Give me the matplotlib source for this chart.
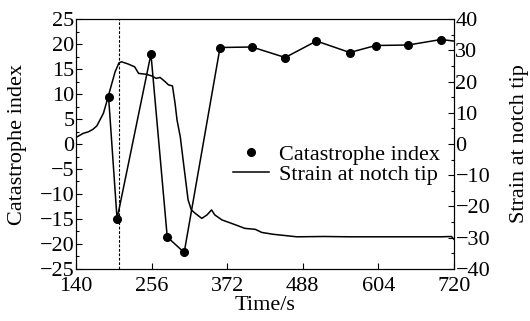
import matplotlib.pyplot as plt
from matplotlib.ticker import MultipleLocator
from matplotlib.lines import Line2D

plt.rcParams['font.family'] = ['Liberation Serif', 'DejaVu Serif']

# catastrophe index (left axis)
ci_time = [190, 203, 255, 280, 306, 361, 410, 461, 509, 560, 600, 650, 700, 745]
ci_value = [9.4, -15.0, 18.0, -18.6, -21.7, 19.3, 19.4, 17.3, 20.6, 18.3, 19.7, 19.8, 20.9, 20.2]

# strain at notch tip (right axis)
st_time = [140, 151, 159, 166, 172, 182, 188, 195, 200, 206, 210, 220, 230, 236,
           248, 256, 263, 269, 277, 282, 288, 292, 295, 300, 305, 312, 317, 323,
           333, 341, 348, 353, 364, 376, 389, 399, 415, 425, 443, 479, 520, 560,
           600, 650, 700, 716, 720]
st_value = [2.1, 3.4, 3.9, 4.7, 5.8, 9.8, 14.1, 19.4, 23.1, 26.0, 26.3, 25.6, 24.7, 22.6,
            22.3, 21.8, 21.0, 21.3, 19.9, 18.9, 18.6, 13.0, 7.7, 2.3, -6.2, -17.9, -21.1, -22.2,
            -23.8, -22.7, -21.1, -22.7, -24.3, -25.2, -26.2, -27.0, -27.3, -28.3, -28.9, -29.7, -29.6, -29.7,
            -29.7, -29.7, -29.7, -29.6, -30.5]

onset = 206.5
fs = 16

fig = plt.figure(figsize=(5.3, 3.21), dpi=100)
ax = fig.add_axes([0.1434, 0.162, 0.7132, 0.7788])
ax2 = ax.twinx()

ax.plot(ci_time, ci_value, color='black', lw=1.1, marker='o', ms=5.5)
ax2.plot(st_time, st_value, color='black', lw=1.1)
ax.axvline(onset, color='black', lw=0.8, ls=(0, (2.5, 1.5)))

ax.set_xlim(140, 720)
ax.set_ylim(-25, 25)
ax2.set_ylim(-40, 40)
ax.set_xticks([140, 256, 372, 488, 604, 720])
ax.yaxis.set_major_locator(MultipleLocator(5))
ax.yaxis.set_minor_locator(MultipleLocator(2.5))
ax2.yaxis.set_major_locator(MultipleLocator(10))
ax2.yaxis.set_minor_locator(MultipleLocator(5))

for a in (ax, ax2):
    a.tick_params(which='both', direction='in', labelsize=fs, width=0.8, pad=1)
    a.tick_params(which='major', length=4)
    a.tick_params(which='minor', length=2.5)
ax.tick_params(axis='x', pad=6)

fmt = lambda v, p: f'{int(v)}'.replace('-', '\u2212')
ax.yaxis.set_major_formatter(fmt)
ax2.yaxis.set_major_formatter(fmt)

ax.set_xlabel('Time/s', fontsize=fs, labelpad=0)
ax.set_ylabel('Catastrophe index', fontsize=fs, labelpad=9)
ax2.set_ylabel('Strain at notch tip', fontsize=fs, labelpad=14)

handles = [Line2D([], [], color='black', marker='o', ms=5.5, ls='none'),
           Line2D([], [], color='black', lw=1.1)]
ax.legend(handles, ['Catastrophe index', 'Strain at notch tip'],
          loc='center right', bbox_to_anchor=(1.0, 0.418), frameon=False,
          fontsize=fs, handlelength=1.6, handletextpad=0.45, labelspacing=0.0,
          borderaxespad=0.25)

fig.savefig('out.png', dpi=100)
